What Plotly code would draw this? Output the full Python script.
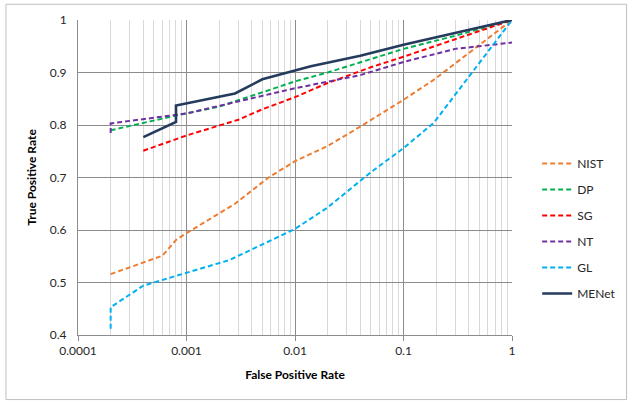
import plotly.graph_objects as go

nist_x = [0.0002, 0.0006, 0.0008, 0.001, 0.0028, 0.0057, 0.01, 0.02, 0.04, 0.1, 0.19, 1]
nist_y = [0.516, 0.551, 0.581, 0.594, 0.65, 0.70, 0.731, 0.76, 0.797, 0.848, 0.886, 1.0]

dp_x = [0.0002, 0.0008, 0.002, 0.005, 0.01, 0.02, 0.05, 0.1, 0.3, 1]
dp_y = [0.79, 0.818, 0.835, 0.862, 0.883, 0.9, 0.925, 0.945, 0.97, 1.0]

sg_x = [0.0004, 0.001, 0.003, 0.005, 0.01, 0.02, 0.05, 0.1, 1]
sg_y = [0.751, 0.78, 0.81, 0.83, 0.853, 0.88, 0.91, 0.93, 1.0]

nt_x = [0.0002, 0.0002, 0.001, 0.003, 0.01, 0.04, 0.1, 0.3, 1]
nt_y = [0.785, 0.803, 0.822, 0.845, 0.87, 0.895, 0.92, 0.945, 0.957]

gl_x = [0.0002, 0.0002, 0.0004, 0.001, 0.0025, 0.01, 0.02, 0.05, 0.1, 0.19, 1]
gl_y = [0.412, 0.453, 0.494, 0.519, 0.543, 0.602, 0.643, 0.71, 0.756, 0.804, 1.0]

menet_x = [0.0004, 0.0008, 0.0008, 0.0028, 0.005, 0.014, 0.04, 0.1, 1]
menet_y = [0.777, 0.806, 0.837, 0.86, 0.887, 0.912, 0.932, 0.953, 1.0]

x_ticks = [0.0001, 0.001, 0.01, 0.1, 1]
x_tick_labels = ["0.0001", "0.001", "0.01", "0.1", "1"]
y_ticks = [0.4, 0.5, 0.6, 0.7, 0.8, 0.9, 1.0]
y_tick_labels = ["0.4", "0.5", "0.6", "0.7", "0.8", "0.9", "1"]

series = [
    ("NIST", nist_x, nist_y, "#ED7D31", "dash"),
    ("DP", dp_x, dp_y, "#00B050", "dash"),
    ("SG", sg_x, sg_y, "#FF0000", "dash"),
    ("NT", nt_x, nt_y, "#7030A0", "dash"),
    ("GL", gl_x, gl_y, "#00B0F0", "dash"),
    ("MENet", menet_x, menet_y, "#243B5E", "solid"),
]

fig = go.Figure()
for name, xs, ys, color, dash in series:
    fig.add_trace(go.Scatter(
        x=xs, y=ys, mode="lines", name=name, legendgroup=name,
        line=dict(color=color, width=2.6 if dash == "solid" else 2,
                  dash="5px,3px" if dash == "dash" else "solid"),
    ))

font = "Lato, 'Open Sans', sans-serif"
fig.update_layout(
    width=633, height=402,
    margin=dict(l=78, r=120, t=18, b=67),
    paper_bgcolor="white", plot_bgcolor="white",
    font=dict(family=font, size=12, color="#262626"),
    showlegend=True,
    legend=dict(x=1.058, y=0.338, xanchor="left", yanchor="middle",
                font=dict(size=12, color="#262626"), tracegroupgap=7,
                bgcolor="rgba(0,0,0,0)"),
    xaxis=dict(type="log", range=[-4, 0], tickvals=x_ticks, ticktext=x_tick_labels,
               showgrid=True, gridcolor="#8c8c8c", gridwidth=1,
               minor=dict(dtick="D1", showgrid=True, gridcolor="#d9d9d9", gridwidth=1, ticks=""),
               showline=True, linecolor="#8c8c8c", linewidth=1,
               ticks="outside", ticklen=5, tickcolor="#8c8c8c",
               zeroline=False,
               title=dict(text="<b>False Positive Rate</b>", font=dict(size=12, color="#000"), standoff=13)),
    yaxis=dict(range=[0.4, 1.0], tickvals=y_ticks, ticktext=y_tick_labels,
               showgrid=True, gridcolor="#8c8c8c", gridwidth=1,
               showline=True, linecolor="#8c8c8c", linewidth=1,
               ticks="outside", ticklen=8, tickcolor="rgba(0,0,0,0)",
               zeroline=False,
               title=dict(text="<b>True Positive Rate</b>", font=dict(size=12, color="#000"), standoff=10)),
    shapes=[dict(type="rect", xref="paper", yref="paper",
                 x0=-0.166, x1=1.264, y0=-0.205, y1=1.05,
                 line=dict(color="#bfbfbf", width=1), layer="below")],
)

fig.write_html("out.html")
